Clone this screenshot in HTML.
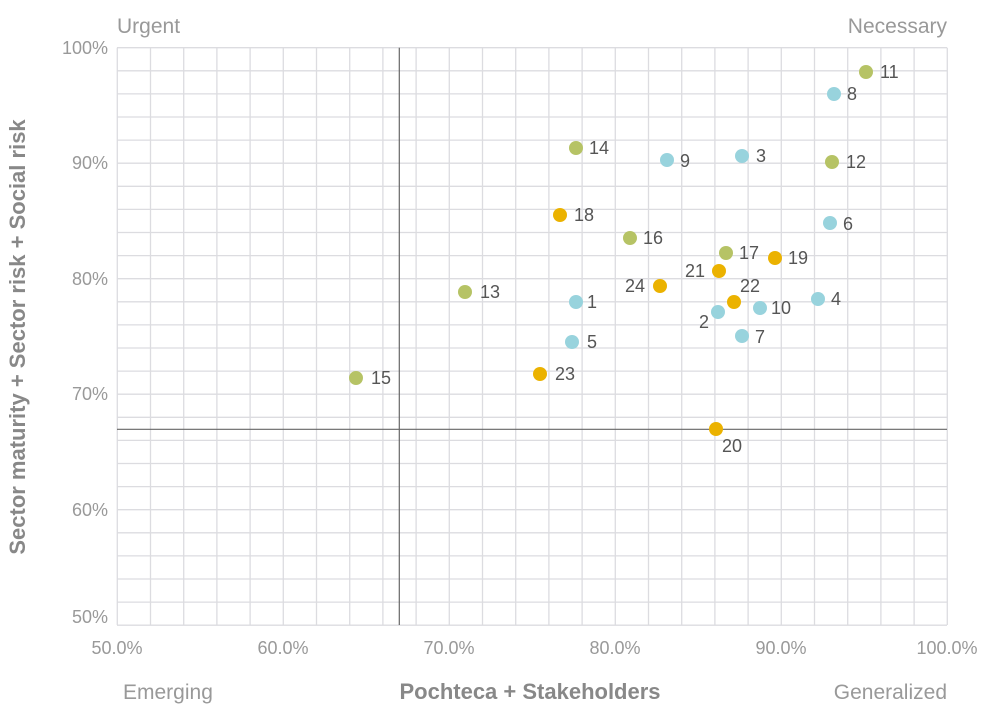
<!DOCTYPE html>
<html><head><meta charset="utf-8"><style>
html,body{margin:0;padding:0;background:#fff;}
svg{display:block;font-family:"Liberation Sans",sans-serif;}
</style></head><body>
<svg width="1000" height="717" viewBox="0 0 1000 717">
<g stroke="#dcdce0" stroke-width="1.3">
<line x1="117" y1="47.7" x2="947" y2="47.7"/><line x1="117" y1="70.8" x2="947" y2="70.8"/><line x1="117" y1="93.9" x2="947" y2="93.9"/><line x1="117" y1="117" x2="947" y2="117"/><line x1="117" y1="140.1" x2="947" y2="140.1"/><line x1="117" y1="163.2" x2="947" y2="163.2"/><line x1="117" y1="186.3" x2="947" y2="186.3"/><line x1="117" y1="209.4" x2="947" y2="209.4"/><line x1="117" y1="232.5" x2="947" y2="232.5"/><line x1="117" y1="255.6" x2="947" y2="255.6"/><line x1="117" y1="278.7" x2="947" y2="278.7"/><line x1="117" y1="301.8" x2="947" y2="301.8"/><line x1="117" y1="324.9" x2="947" y2="324.9"/><line x1="117" y1="348" x2="947" y2="348"/><line x1="117" y1="371.1" x2="947" y2="371.1"/><line x1="117" y1="394.2" x2="947" y2="394.2"/><line x1="117" y1="417.3" x2="947" y2="417.3"/><line x1="117" y1="440.4" x2="947" y2="440.4"/><line x1="117" y1="463.5" x2="947" y2="463.5"/><line x1="117" y1="486.6" x2="947" y2="486.6"/><line x1="117" y1="509.7" x2="947" y2="509.7"/><line x1="117" y1="532.8" x2="947" y2="532.8"/><line x1="117" y1="555.9" x2="947" y2="555.9"/><line x1="117" y1="579" x2="947" y2="579"/><line x1="117" y1="602.1" x2="947" y2="602.1"/><line x1="117" y1="625.2" x2="947" y2="625.2"/>
<line x1="117.3" y1="47.7" x2="117.3" y2="625"/><line x1="150.5" y1="47.7" x2="150.5" y2="625"/><line x1="183.7" y1="47.7" x2="183.7" y2="625"/><line x1="216.9" y1="47.7" x2="216.9" y2="625"/><line x1="250.1" y1="47.7" x2="250.1" y2="625"/><line x1="283.3" y1="47.7" x2="283.3" y2="625"/><line x1="316.5" y1="47.7" x2="316.5" y2="625"/><line x1="349.7" y1="47.7" x2="349.7" y2="625"/><line x1="382.9" y1="47.7" x2="382.9" y2="625"/><line x1="416.1" y1="47.7" x2="416.1" y2="625"/><line x1="449.3" y1="47.7" x2="449.3" y2="625"/><line x1="482.5" y1="47.7" x2="482.5" y2="625"/><line x1="515.7" y1="47.7" x2="515.7" y2="625"/><line x1="548.9" y1="47.7" x2="548.9" y2="625"/><line x1="582.1" y1="47.7" x2="582.1" y2="625"/><line x1="615.3" y1="47.7" x2="615.3" y2="625"/><line x1="648.5" y1="47.7" x2="648.5" y2="625"/><line x1="681.7" y1="47.7" x2="681.7" y2="625"/><line x1="714.9" y1="47.7" x2="714.9" y2="625"/><line x1="748.1" y1="47.7" x2="748.1" y2="625"/><line x1="781.3" y1="47.7" x2="781.3" y2="625"/><line x1="814.5" y1="47.7" x2="814.5" y2="625"/><line x1="847.7" y1="47.7" x2="847.7" y2="625"/><line x1="880.9" y1="47.7" x2="880.9" y2="625"/><line x1="914.1" y1="47.7" x2="914.1" y2="625"/><line x1="947.3" y1="47.7" x2="947.3" y2="625"/>
</g>
<g stroke="#666" stroke-width="1.2">
<line x1="399.3" y1="47.7" x2="399.3" y2="625"/>
<line x1="117" y1="429.3" x2="947" y2="429.3"/>
</g>
<g fill="#999" font-size="18" text-anchor="end">
<text x="108" y="54">100%</text><text x="108" y="169">90%</text><text x="108" y="285">80%</text><text x="108" y="400">70%</text><text x="108" y="516">60%</text><text x="108" y="623">50%</text>
</g>
<g fill="#999" font-size="18" text-anchor="middle">
<text x="117" y="654">50.0%</text><text x="283" y="654">60.0%</text><text x="449" y="654">70.0%</text><text x="615" y="654">80.0%</text><text x="781" y="654">90.0%</text><text x="947" y="654">100.0%</text>
</g>
<g fill="#999" font-size="21">
<text x="117" y="33">Urgent</text>
<text x="947" y="33" text-anchor="end">Necessary</text>
<text x="123" y="699">Emerging</text>
<text x="947" y="699" text-anchor="end">Generalized</text>
</g>
<text x="530" y="699" font-size="22" font-weight="bold" fill="#888" text-anchor="middle">Pochteca + Stakeholders</text>
<text transform="translate(25,337) rotate(-90)" font-size="22" font-weight="bold" fill="#888" text-anchor="middle">Sector maturity + Sector risk + Social risk</text>
<g>
<circle cx="866" cy="72" r="7" fill="#b6c365"/><circle cx="834" cy="94" r="7" fill="#98d3dd"/><circle cx="742" cy="156" r="7" fill="#98d3dd"/><circle cx="832" cy="162" r="7" fill="#b6c365"/><circle cx="576" cy="148" r="7" fill="#b6c365"/><circle cx="667" cy="160" r="7" fill="#98d3dd"/><circle cx="560" cy="215" r="7" fill="#ebb200"/><circle cx="630" cy="238" r="7" fill="#b6c365"/><circle cx="830" cy="223" r="7" fill="#98d3dd"/><circle cx="726" cy="253" r="7" fill="#b6c365"/><circle cx="775" cy="258" r="7" fill="#ebb200"/><circle cx="719" cy="271" r="7" fill="#ebb200"/><circle cx="465" cy="292" r="7" fill="#b6c365"/><circle cx="660" cy="286" r="7" fill="#ebb200"/><circle cx="576" cy="302" r="7" fill="#98d3dd"/><circle cx="818" cy="299" r="7" fill="#98d3dd"/><circle cx="734" cy="302" r="7" fill="#ebb200"/><circle cx="760" cy="308" r="7" fill="#98d3dd"/><circle cx="718" cy="312" r="7" fill="#98d3dd"/><circle cx="742" cy="336" r="7" fill="#98d3dd"/><circle cx="572" cy="342" r="7" fill="#98d3dd"/><circle cx="540" cy="374" r="7" fill="#ebb200"/><circle cx="356" cy="378" r="7" fill="#b6c365"/><circle cx="716" cy="429" r="7" fill="#ebb200"/>
</g>
<g fill="#555" font-size="18">
<text x="880" y="78">11</text><text x="847" y="100">8</text><text x="756" y="162">3</text><text x="846" y="168">12</text><text x="589" y="154">14</text><text x="680" y="167">9</text><text x="574" y="221">18</text><text x="643" y="244">16</text><text x="843" y="230">6</text><text x="739" y="259">17</text><text x="788" y="264">19</text><text x="685" y="277">21</text><text x="480" y="298">13</text><text x="625" y="292">24</text><text x="587" y="308">1</text><text x="831" y="305">4</text><text x="740" y="292">22</text><text x="771" y="314">10</text><text x="699" y="328">2</text><text x="755" y="343">7</text><text x="587" y="348">5</text><text x="555" y="380">23</text><text x="371" y="384">15</text><text x="722" y="452">20</text>
</g>
</svg>
</body></html>
